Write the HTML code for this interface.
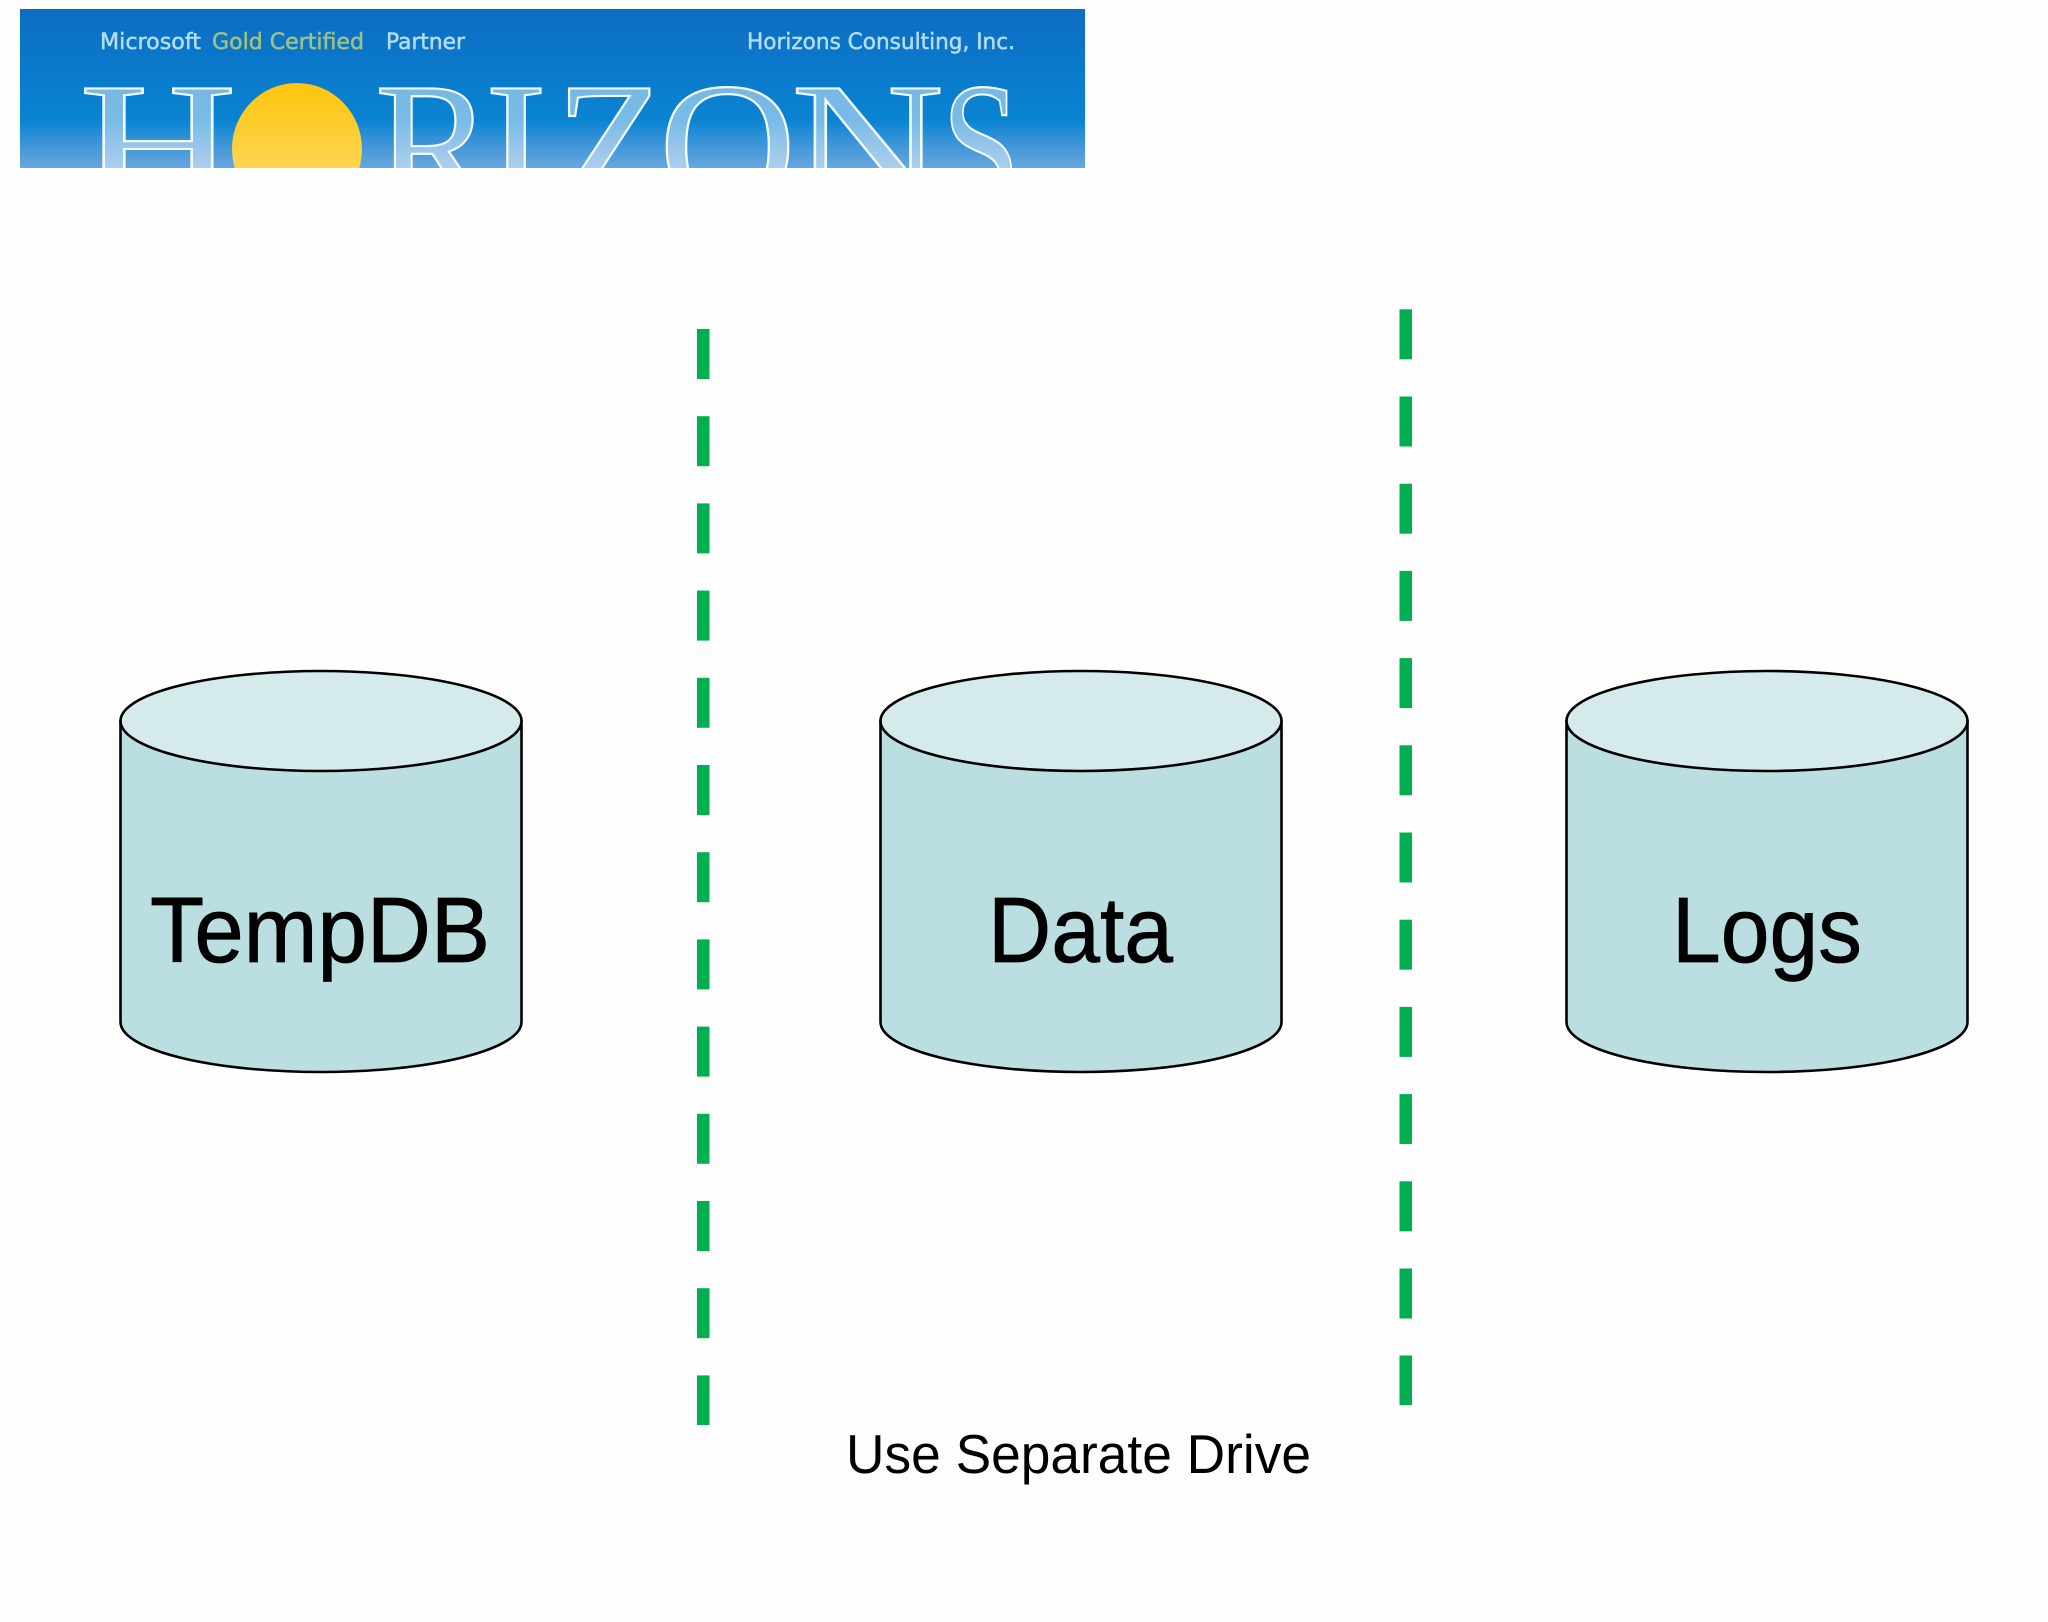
<!DOCTYPE html>
<html>
<head>
<meta charset="utf-8">
<style>
html,body{margin:0;padding:0;background:#fefefe;width:2048px;height:1622px;overflow:hidden}
svg{display:block}
text{font-family:"Liberation Sans",Arial,sans-serif}
.s{font-family:"Liberation Serif",serif}
.d{font-family:"DejaVu Sans",sans-serif}
</style>
</head>
<body>
<svg width="2048" height="1622" viewBox="0 0 2048 1622" xmlns="http://www.w3.org/2000/svg">
<defs>
<linearGradient id="bg" x1="0" y1="0" x2="0" y2="1">
<stop offset="0" stop-color="#0c6dc3"/>
<stop offset=".7" stop-color="#0a84d2"/>
<stop offset=".84" stop-color="#3b94d8"/>
<stop offset="1" stop-color="#68a7de"/>
</linearGradient>
<linearGradient id="sun" x1="0" y1="0" x2="0" y2="1">
<stop offset="0" stop-color="#fdc50c"/>
<stop offset="1" stop-color="#fedd78"/>
</linearGradient>
<clipPath id="cb"><rect x="20" y="9" width="1065" height="159"/></clipPath>
<g id="cyl">
<path d="M0.5 51 V352 A200.5 50 0 0 0 401.5 352 V51 Z" fill="#bbdfe1" stroke="#000" stroke-width="2.6"/>
<ellipse cx="201" cy="51" rx="200.5" ry="50" fill="#d5eaeb" stroke="#000" stroke-width="2.6"/>
</g>
</defs>

<rect width="2048" height="1622" fill="#fefefe"/>

<g clip-path="url(#cb)">
<rect x="20" y="9" width="1065" height="159" fill="url(#bg)"/>
<ellipse cx="297" cy="149" rx="65" ry="66" fill="url(#sun)"/>
<g font-size="178" fill="#ffffff" fill-opacity=".45" stroke="#f4fbff" stroke-width="2.2">
<text class="s" x="79" y="205" textLength="158" lengthAdjust="spacingAndGlyphs">H</text>
<text class="s" x="375" y="205" textLength="118" lengthAdjust="spacingAndGlyphs">R</text>
<text class="s" x="485" y="205" textLength="62" lengthAdjust="spacingAndGlyphs">I</text>
<text class="s" x="555" y="205" textLength="110" lengthAdjust="spacingAndGlyphs">Z</text>
<text class="s" x="659" y="205" textLength="137" lengthAdjust="spacingAndGlyphs">O</text>
<text class="s" x="791" y="205" textLength="153" lengthAdjust="spacingAndGlyphs">N</text>
<text class="s" x="942" y="205" textLength="78" lengthAdjust="spacingAndGlyphs">S</text>
</g>
<g font-size="22" stroke-width=".5">
<text class="d" x="100" y="49" fill="#b5def5" stroke="#b5def5" textLength="101" lengthAdjust="spacingAndGlyphs">Microsoft</text>
<text class="d" x="212" y="49" fill="#9cc384" stroke="#9cc384" textLength="152" lengthAdjust="spacingAndGlyphs">Gold Certified</text>
<text class="d" x="386" y="49" fill="#b5def5" stroke="#b5def5" textLength="79" lengthAdjust="spacingAndGlyphs">Partner</text>
<text class="d" x="747" y="49" fill="#b5def5" stroke="#b5def5" textLength="268" lengthAdjust="spacingAndGlyphs">Horizons Consulting, Inc.</text>
</g>
</g>

<use href="#cyl" x="120" y="670"/>
<use href="#cyl" x="880" y="670"/>
<use href="#cyl" x="1566" y="670"/>

<g fill="#000" stroke="#000" stroke-width=".8" font-size="93">
<text x="150" y="962" textLength="340" lengthAdjust="spacingAndGlyphs">TempDB</text>
<text x="988" y="962" textLength="185" lengthAdjust="spacingAndGlyphs">Data</text>
<text x="1672" y="962" textLength="190" lengthAdjust="spacingAndGlyphs">Logs</text>
</g>
<text x="846" y="1473" font-size="55" fill="#000" textLength="465" lengthAdjust="spacingAndGlyphs">Use Separate Drive</text>

<g fill="#00b050">
<rect x="697" y="329" width="12.5" height="50"/>
<rect x="697" y="416.2" width="12.5" height="50"/>
<rect x="697" y="503.4" width="12.5" height="50"/>
<rect x="697" y="590.6" width="12.5" height="50"/>
<rect x="697" y="677.8" width="12.5" height="50"/>
<rect x="697" y="765" width="12.5" height="50"/>
<rect x="697" y="852.2" width="12.5" height="50"/>
<rect x="697" y="939.4" width="12.5" height="50"/>
<rect x="697" y="1026.6" width="12.5" height="50"/>
<rect x="697" y="1113.8" width="12.5" height="50"/>
<rect x="697" y="1201" width="12.5" height="50"/>
<rect x="697" y="1288.2" width="12.5" height="50"/>
<rect x="697" y="1375.4" width="12.5" height="49.6"/>

<rect x="1399.5" y="309.3" width="12.5" height="50"/>
<rect x="1399.5" y="396.5" width="12.5" height="50"/>
<rect x="1399.5" y="483.7" width="12.5" height="50"/>
<rect x="1399.5" y="570.9" width="12.5" height="50"/>
<rect x="1399.5" y="658.1" width="12.5" height="50"/>
<rect x="1399.5" y="745.3" width="12.5" height="50"/>
<rect x="1399.5" y="832.5" width="12.5" height="50"/>
<rect x="1399.5" y="919.7" width="12.5" height="50"/>
<rect x="1399.5" y="1006.9" width="12.5" height="50"/>
<rect x="1399.5" y="1094.1" width="12.5" height="50"/>
<rect x="1399.5" y="1181.3" width="12.5" height="50"/>
<rect x="1399.5" y="1268.5" width="12.5" height="50"/>
<rect x="1399.5" y="1355.5" width="12.5" height="49.6"/>
</g>
</svg>
</body>
</html>
